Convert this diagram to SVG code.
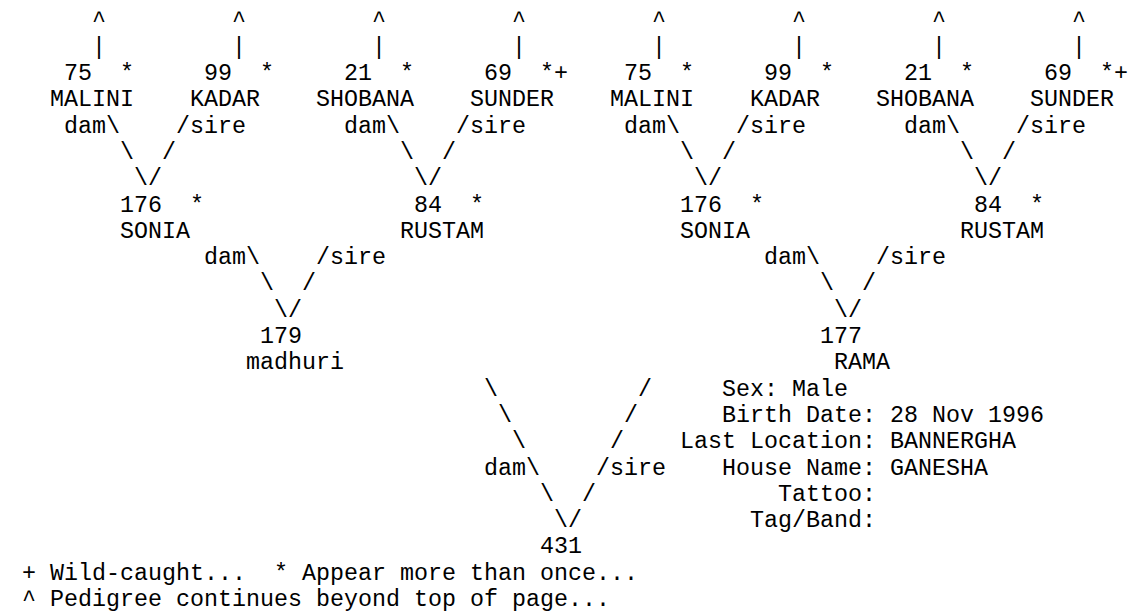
<svg xmlns="http://www.w3.org/2000/svg" width="1133" height="612" viewBox="0 0 1133 612" xml:space="preserve">
<style>
text { font-family: "Liberation Mono", "Courier New", monospace; font-size: 23.333px; fill: #000; white-space: pre; }
</style>
<rect width="1133" height="612" fill="#fff"/>
<g id="connectors">
<text x="92" y="27.4">^</text><text x="232" y="27.4">^</text><text x="372" y="27.4">^</text><text x="512" y="27.4">^</text>
<text x="652" y="27.4">^</text><text x="792" y="27.4">^</text><text x="932" y="27.4">^</text><text x="1072" y="27.4">^</text>
<text x="92" y="53.7">|</text><text x="232" y="53.7">|</text><text x="372" y="53.7">|</text><text x="512" y="53.7">|</text>
<text x="652" y="53.7">|</text><text x="792" y="53.7">|</text><text x="932" y="53.7">|</text><text x="1072" y="53.7">|</text>
<text x="64" y="132.6">dam\</text><text x="176" y="132.6">/sire</text><text x="344" y="132.6">dam\</text><text x="456" y="132.6">/sire</text>
<text x="624" y="132.6">dam\</text><text x="736" y="132.6">/sire</text><text x="904" y="132.6">dam\</text><text x="1016" y="132.6">/sire</text>
<text x="120" y="158.9">\</text><text x="162" y="158.9">/</text><text x="400" y="158.9">\</text><text x="442" y="158.9">/</text>
<text x="680" y="158.9">\</text><text x="722" y="158.9">/</text><text x="960" y="158.9">\</text><text x="1002" y="158.9">/</text>
<text x="134" y="185.2">\/</text><text x="414" y="185.2">\/</text><text x="694" y="185.2">\/</text><text x="974" y="185.2">\/</text>
<text x="204" y="264.1">dam\</text><text x="316" y="264.1">/sire</text><text x="764" y="264.1">dam\</text><text x="876" y="264.1">/sire</text>
<text x="260" y="290.4">\</text><text x="302" y="290.4">/</text><text x="820" y="290.4">\</text><text x="862" y="290.4">/</text>
<text x="274" y="316.7">\/</text><text x="834" y="316.7">\/</text>
<text x="484" y="395.6">\</text><text x="638" y="395.6">/</text>
<text x="498" y="421.9">\</text><text x="624" y="421.9">/</text>
<text x="512" y="448.2">\</text><text x="610" y="448.2">/</text>
<text x="484" y="474.5">dam\</text><text x="596" y="474.5">/sire</text>
<text x="540" y="500.8">\</text><text x="582" y="500.8">/</text>
<text x="554" y="527.1">\/</text>
</g>
<g id="node-75-a"><text x="64" y="80">75  *</text><text x="50" y="106.3">MALINI</text></g>
<g id="node-99-a"><text x="204" y="80">99  *</text><text x="190" y="106.3">KADAR</text></g>
<g id="node-21-a"><text x="344" y="80">21  *</text><text x="316" y="106.3">SHOBANA</text></g>
<g id="node-69-a"><text x="484" y="80">69  *+</text><text x="470" y="106.3">SUNDER</text></g>
<g id="node-75-b"><text x="624" y="80">75  *</text><text x="610" y="106.3">MALINI</text></g>
<g id="node-99-b"><text x="764" y="80">99  *</text><text x="750" y="106.3">KADAR</text></g>
<g id="node-21-b"><text x="904" y="80">21  *</text><text x="876" y="106.3">SHOBANA</text></g>
<g id="node-69-b"><text x="1044" y="80">69  *+</text><text x="1030" y="106.3">SUNDER</text></g>
<g id="node-176-a"><text x="120" y="211.5">176  *</text><text x="120" y="237.8">SONIA</text></g>
<g id="node-84-a"><text x="414" y="211.5">84  *</text><text x="400" y="237.8">RUSTAM</text></g>
<g id="node-176-b"><text x="680" y="211.5">176  *</text><text x="680" y="237.8">SONIA</text></g>
<g id="node-84-b"><text x="974" y="211.5">84  *</text><text x="960" y="237.8">RUSTAM</text></g>
<g id="node-179"><text x="260" y="343">179</text><text x="246" y="369.3">madhuri</text></g>
<g id="node-177"><text x="820" y="343">177</text><text x="834" y="369.3">RAMA</text></g>
<g id="node-431"><text x="540" y="553.4">431</text></g>
<g id="info">
<text x="722" y="395.6">Sex: Male</text>
<text x="722" y="421.9">Birth Date: 28 Nov 1996</text>
<text x="680" y="448.2">Last Location: BANNERGHA</text>
<text x="722" y="474.5">House Name: GANESHA</text>
<text x="778" y="500.8">Tattoo:</text>
<text x="750" y="527.1">Tag/Band:</text>
</g>
<g id="legend">
<text x="22" y="579.7">+ Wild-caught...  * Appear more than once...</text>
<text x="22" y="606">^ Pedigree continues beyond top of page...</text>
</g>
</svg>
